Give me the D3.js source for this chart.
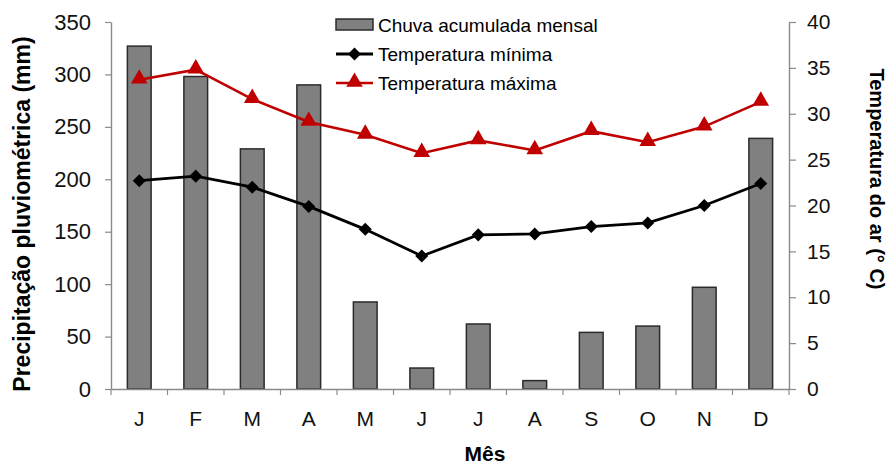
<!DOCTYPE html>
<html>
<head>
<meta charset="utf-8">
<script src="https://cdn.jsdelivr.net/npm/d3@7"></script>
<style>
  html, body { margin: 0; padding: 0; background: #fff; }
  svg { display: block; font-family: "Liberation Sans", Arial, sans-serif; }
</style>
</head>
<body>
<svg id="chart" width="889" height="464"></svg>
<script>
// Monthly climate data
const months = ["J", "F", "M", "A", "M", "J", "J", "A", "S", "O", "N", "D"];
const chuva = [327, 298, 229, 290, 83, 20, 62, 8, 54, 60, 97, 239];          // mm
const tempMin = [22.7, 23.2, 22.0, 19.9, 17.4, 14.5, 16.8, 16.9, 17.7, 18.1, 20.0, 22.4]; // °C
const tempMax = [33.7, 34.8, 31.6, 29.1, 27.7, 25.7, 27.1, 26.0, 28.1, 26.9, 28.6, 31.3]; // °C
const rainTicks = [0, 50, 100, 150, 200, 250, 300, 350];
const tempTicks = [0, 5, 10, 15, 20, 25, 30, 35, 40];
const legendLabels = ["Chuva acumulada mensal", "Temperatura mínima", "Temperatura máxima"];

const svg = d3.select("#chart");
const plotL = 111, plotR = 789, plotT = 22, plotB = 389;
const axisColor = "#8a8a8a";
const red = "#c00000";

const idx = d3.range(months.length);
const x = d3.scaleBand().domain(idx).range([plotL, plotR]).padding(0);
const yRain = d3.scaleLinear().domain([0, 350]).range([plotB, plotT]);
const yTemp = d3.scaleLinear().domain([0, 40]).range([plotB, plotT]);

// Bars: monthly rainfall
const barW = x.bandwidth() * 0.42;
svg.append("g").selectAll("rect").data(chuva).join("rect")
  .attr("x", (d, i) => x(i) + x.bandwidth() / 2 - barW / 2)
  .attr("y", d => yRain(d))
  .attr("width", barW)
  .attr("height", d => yRain(0) - yRain(d))
  .attr("fill", "#808080")
  .attr("stroke", "#2b2b2b")
  .attr("stroke-width", 1.5);

// Left axis
const gl = svg.append("g").attr("transform", `translate(${plotL},0)`)
  .call(d3.axisLeft(yRain).tickValues(rainTicks).tickSize(6).tickSizeOuter(0).tickPadding(14));
// Right axis
const gr = svg.append("g").attr("transform", `translate(${plotR},0)`)
  .call(d3.axisRight(yTemp).tickValues(tempTicks).tickSize(7).tickSizeOuter(0).tickPadding(11));
// Bottom axis: labels centred on months, ticks on category boundaries
const gb = svg.append("g").attr("transform", `translate(0,${plotB})`)
  .call(d3.axisBottom(x).tickFormat(i => months[i]).tickSize(0).tickSizeOuter(0).tickPadding(22));
gb.selectAll(".tick line").remove();
gb.append("g").selectAll("line").data(idx.concat([months.length])).join("line")
  .attr("x1", i => i < months.length ? x(i) : plotR)
  .attr("x2", i => i < months.length ? x(i) : plotR)
  .attr("y1", 0).attr("y2", 6)
  .attr("stroke", axisColor).attr("stroke-width", 1.2);

[gl, gr, gb].forEach(g => {
  g.selectAll(".domain").attr("stroke", axisColor).attr("stroke-width", 1.4);
  g.selectAll(".tick line").attr("stroke", axisColor).attr("stroke-width", 1.2);
  g.selectAll(".tick text").attr("fill", "#111").style("font-size", "21px");
});
gl.selectAll(".tick text").style("font-size", "22px");
gr.selectAll(".tick text").style("font-size", "21px");

// Temperature lines
const cx = i => x(i) + x.bandwidth() / 2;
const lineT = d3.line().x((d, i) => cx(i)).y(d => yTemp(d));

svg.append("path").datum(tempMin).attr("d", lineT)
  .attr("fill", "none").attr("stroke", "#000").attr("stroke-width", 2.8);
svg.append("path").datum(tempMax).attr("d", lineT)
  .attr("fill", "none").attr("stroke", red).attr("stroke-width", 2.6);

const diamond = d3.symbol().type(d3.symbolSquare).size(85);
const triangle = d3.symbol().type(d3.symbolTriangle).size(120);

svg.append("g").selectAll("path").data(tempMin).join("path")
  .attr("d", diamond)
  .attr("transform", (d, i) => `translate(${cx(i)},${yTemp(d)}) rotate(45)`)
  .attr("fill", "#000");
svg.append("g").selectAll("path").data(tempMax).join("path")
  .attr("d", triangle)
  .attr("transform", (d, i) => `translate(${cx(i)},${yTemp(d) - 1})`)
  .attr("fill", red);

// Axis titles
svg.append("text")
  .attr("transform", "translate(30,214) rotate(-90)")
  .attr("text-anchor", "middle")
  .style("font-size", "23px").style("font-weight", "bold").attr("fill", "#000")
  .text("Precipitação pluviométrica (mm)");
svg.append("text")
  .attr("transform", "translate(870,179) rotate(90)")
  .attr("text-anchor", "middle")
  .style("font-size", "20px").style("font-weight", "bold").attr("fill", "#000")
  .text("Temperatura do ar (° C)");
svg.append("text")
  .attr("x", 485).attr("y", 461)
  .attr("text-anchor", "middle")
  .style("font-size", "21px").style("font-weight", "bold").attr("fill", "#000")
  .text("Mês");

// Legend
const lg = svg.append("g").attr("transform", "translate(336,0)");
const rowY = [25, 54, 83];
lg.append("rect").attr("x", 0).attr("y", rowY[0] - 6).attr("width", 37).attr("height", 11)
  .attr("fill", "#808080").attr("stroke", "#2b2b2b").attr("stroke-width", 1.5);
lg.append("line").attr("x1", 0).attr("x2", 37).attr("y1", rowY[1]).attr("y2", rowY[1])
  .attr("stroke", "#000").attr("stroke-width", 2.8);
lg.append("path").attr("d", diamond).attr("transform", `translate(18.5,${rowY[1]}) rotate(45)`).attr("fill", "#000");
lg.append("line").attr("x1", 0).attr("x2", 37).attr("y1", rowY[2]).attr("y2", rowY[2])
  .attr("stroke", red).attr("stroke-width", 2.6);
lg.append("path").attr("d", triangle).attr("transform", `translate(18.5,${rowY[2] - 1})`).attr("fill", red);
lg.selectAll("text.lbl").data(legendLabels).join("text").attr("class", "lbl")
  .attr("x", 42).attr("y", (d, i) => rowY[i]).attr("dy", "0.35em")
  .style("font-size", "19px").attr("fill", "#000")
  .text(d => d);
</script>
</body>
</html>
